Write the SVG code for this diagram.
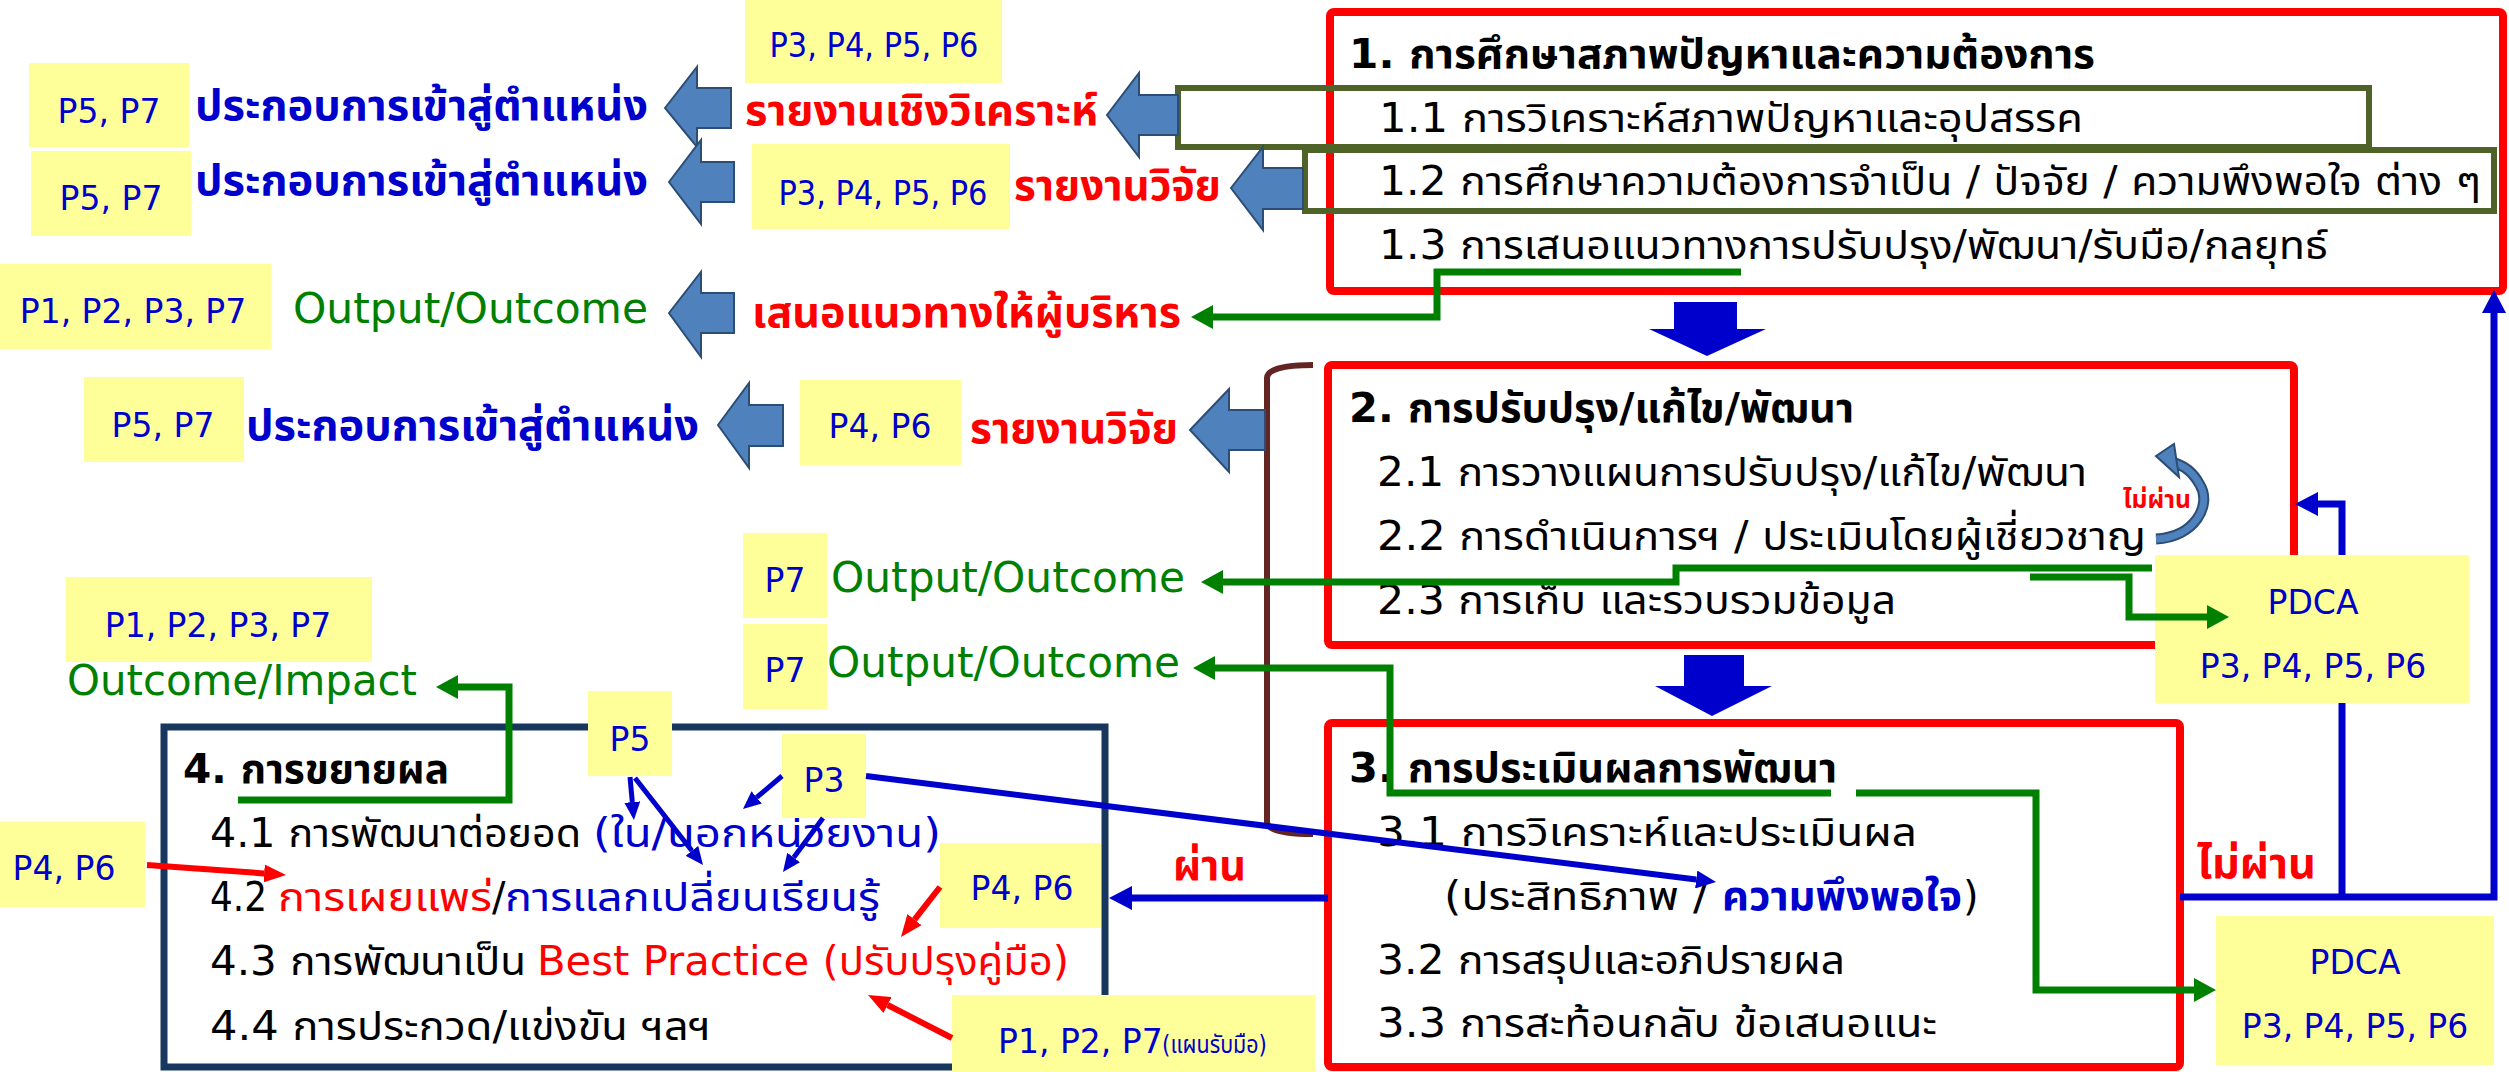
<svg xmlns="http://www.w3.org/2000/svg" width="2509" height="1072" viewBox="0 0 2509 1072">
<style>
text{font-family:"DejaVu Sans","Noto Sans Thai","Noto Sans",sans-serif;}
.it{font-size:40px;fill:#000;}
.hd{font-size:41px;font-weight:bold;fill:#000;}
.lb{font-size:33px;fill:#0000CC;text-anchor:middle;}
.sb{font-size:42px;font-weight:bold;fill:#0000CC;}
.sr{font-size:42px;font-weight:bold;fill:#FF0000;}
.oo{font-size:42px;fill:#008000;}
.yb{fill:#FFFF99;}
.rb{fill:#fff;stroke:#FF0000;stroke-width:8;}
.ol{fill:none;stroke:#4F6228;stroke-width:6;}
.ba{fill:#4F81BD;stroke:#2C4D75;stroke-width:2;}
.da{fill:#0000CC;}
.g{fill:none;stroke:#008000;stroke-width:7;}
.b{fill:none;stroke:#0000CC;stroke-width:7;}
.bt{fill:none;stroke:#0000CC;stroke-width:5;}
.r{fill:none;stroke:#FF0000;stroke-width:6;}
</style>
<defs>
<marker id="mg" markerUnits="userSpaceOnUse" viewBox="0 -12 22 24" refX="0" refY="0" markerWidth="22" markerHeight="24" orient="auto-start-reverse"><path d="M0,-12 L22,0 L0,12z" fill="#008000"/></marker>
<marker id="mb" markerUnits="userSpaceOnUse" viewBox="0 -12 23 24" refX="0" refY="0" markerWidth="23" markerHeight="24" orient="auto"><path d="M0,-12 L23,0 L0,12z" fill="#0000CC"/></marker>
<marker id="mbt" markerUnits="userSpaceOnUse" viewBox="0 -8 18 16" refX="0" refY="0" markerWidth="18" markerHeight="16" orient="auto"><path d="M0,-8 L18,0 L0,8z" fill="#0000CC"/></marker>
<marker id="mbd" markerUnits="userSpaceOnUse" viewBox="0 -9 20 18" refX="0" refY="0" markerWidth="20" markerHeight="18" orient="auto"><path d="M0,-9 L20,0 L0,9z" fill="#0000CC"/></marker>
<marker id="mr" markerUnits="userSpaceOnUse" viewBox="0 -9 22 18" refX="0" refY="0" markerWidth="22" markerHeight="18" orient="auto"><path d="M0,-9 L22,0 L0,9z" fill="#FF0000"/></marker>
</defs>
<rect width="2509" height="1072" fill="#fff"/>

<!-- main boxes -->
<g id="box1">
<rect class="rb" x="1330" y="12" width="1173" height="279" rx="4"/>
<rect class="ol" x="1178" y="88" width="1191" height="59"/>
<rect class="ol" x="1305" y="150" width="1189" height="61"/>
<text class="hd" x="1349" y="68" textLength="746" lengthAdjust="spacingAndGlyphs">1. การศึกษาสภาพปัญหาและความต้องการ</text>
<text class="it" x="1379" y="132" textLength="704" lengthAdjust="spacingAndGlyphs">1.1 การวิเคราะห์สภาพปัญหาและอุปสรรค</text>
<text class="it" x="1379" y="195" textLength="1102" lengthAdjust="spacingAndGlyphs">1.2 การศึกษาความต้องการจำเป็น / ปัจจัย / ความพึงพอใจ ต่าง ๆ</text>
<text class="it" x="1379" y="259" textLength="949" lengthAdjust="spacingAndGlyphs">1.3 การเสนอแนวทางการปรับปรุง/พัฒนา/รับมือ/กลยุทธ์</text>
</g>
<g id="box2">
<rect class="rb" x="1328" y="365" width="966" height="280" rx="4"/>
<text class="hd" x="1349" y="422" textLength="505" lengthAdjust="spacingAndGlyphs">2. การปรับปรุง/แก้ไข/พัฒนา</text>
<text class="it" x="1377" y="486" textLength="710" lengthAdjust="spacingAndGlyphs">2.1 การวางแผนการปรับปรุง/แก้ไข/พัฒนา</text>
<text class="it" x="1377" y="550" textLength="769" lengthAdjust="spacingAndGlyphs">2.2 การดำเนินการฯ / ประเมินโดยผู้เชี่ยวชาญ</text>
<text class="it" x="1377" y="614" textLength="519" lengthAdjust="spacingAndGlyphs">2.3 การเก็บ และรวบรวมข้อมูล</text>
</g>
<g id="box3">
<rect class="rb" x="1328" y="723" width="852" height="344" rx="4"/>
<text class="hd" x="1349" y="782" textLength="488" lengthAdjust="spacingAndGlyphs">3. การประเมินผลการพัฒนา</text>
<text class="it" x="1377" y="846" textLength="540" lengthAdjust="spacingAndGlyphs">3.1 การวิเคราะห์และประเมินผล</text>
<text class="it" x="1444" y="910" textLength="264" lengthAdjust="spacingAndGlyphs">(ประสิทธิภาพ /</text>
<text class="it" x="1722" y="910" textLength="240" lengthAdjust="spacingAndGlyphs" style="fill:#0000CC;font-weight:bold">ความพึงพอใจ</text>
<text class="it" x="1963" y="910">)</text>
<text class="it" x="1377" y="974" textLength="468" lengthAdjust="spacingAndGlyphs">3.2 การสรุปและอภิปรายผล</text>
<text class="it" x="1377" y="1037" textLength="560" lengthAdjust="spacingAndGlyphs">3.3 การสะท้อนกลับ ข้อเสนอแนะ</text>
</g>
<g id="box4">
<rect x="164" y="727" width="941" height="340" fill="#fff" stroke="#17375E" stroke-width="7"/>
<text class="hd" x="183" y="783" textLength="266" lengthAdjust="spacingAndGlyphs">4. การขยายผล</text>
<text class="it" x="210" y="847" textLength="371" lengthAdjust="spacingAndGlyphs">4.1 การพัฒนาต่อยอด</text>
<text class="it" x="593" y="847" textLength="348" lengthAdjust="spacingAndGlyphs" style="fill:#0000CC">(ใน/นอกหน่วยงาน)</text>
<text class="it" x="210" y="911" textLength="57" lengthAdjust="spacingAndGlyphs">4.2</text>
<text class="it" x="278" y="911" textLength="214" lengthAdjust="spacingAndGlyphs" style="fill:#FF0000">การเผยแพร่</text>
<text class="it" x="492" y="911">/</text>
<text class="it" x="505" y="911" textLength="375" lengthAdjust="spacingAndGlyphs" style="fill:#0000CC">การแลกเปลี่ยนเรียนรู้</text>
<text class="it" x="210" y="975" textLength="316" lengthAdjust="spacingAndGlyphs">4.3 การพัฒนาเป็น</text>
<text class="it" x="537" y="975" textLength="532" lengthAdjust="spacingAndGlyphs" style="fill:#FF0000">Best Practice (ปรับปรุงคู่มือ)</text>
<text class="it" x="210" y="1040" textLength="501" lengthAdjust="spacingAndGlyphs">4.4 การประกวด/แข่งขัน ฯลฯ</text>
</g>
<g id="bracket"><path d="M1313,365 Q1267,365 1267,378 V822 Q1267,834 1313,834" fill="none" stroke="#632523" stroke-width="6"/></g>

<!-- block arrows -->
<g id="blockArrows">
<polygon class="ba" points="665,108 697,67 697,88 731,88 731,128 697,128 697,147"/>
<polygon class="ba" points="1107,115 1139,73 1139,95 1178,95 1178,135 1139,135 1139,157"/>
<polygon class="ba" points="669,182 701,140 701,162 734,162 734,202 701,202 701,224"/>
<polygon class="ba" points="1231,188 1263,147 1263,168 1303,168 1303,209 1263,209 1263,230"/>
<polygon class="ba" points="669,313 701,272 701,293 734,293 734,333 701,333 701,357"/>
<polygon class="ba" points="1190,430 1229,389 1229,410 1265,410 1265,450 1229,450 1229,472"/>
<polygon class="ba" points="718,425 749,383 749,405 783,405 783,446 749,446 749,468"/>
<polygon class="da" points="1674,302 1737,302 1737,329 1766,329 1707,356 1649,329 1674,329"/>
<polygon class="da" points="1684,655 1744,655 1744,686 1772,686 1712,716 1655,686 1684,686"/>
</g>

<g id="connectorsBack">
<path class="b" d="M2342,900 V504 H2318" marker-end="url(#mb)"/>
<path class="b" d="M2180,897 H2494 V313" marker-end="url(#mb)"/>
<path class="b" d="M1328,898 H1132" marker-end="url(#mb)"/>
</g>

<!-- side labels -->
<g id="n_report_analysis">
<rect class="yb" x="745" y="0" width="257" height="83"/>
<text class="lb" x="874" y="57" textLength="209" lengthAdjust="spacingAndGlyphs">P3, P4, P5, P6</text>
<text class="sr" x="745" y="125" textLength="353" lengthAdjust="spacingAndGlyphs">รายงานเชิงวิเคราะห์</text>
</g>
<g id="n_pos1">
<rect class="yb" x="29" y="63" width="160" height="84"/>
<text class="lb" x="109" y="123">P5, P7</text>
<text class="sb" x="195" y="120" textLength="453" lengthAdjust="spacingAndGlyphs">ประกอบการเข้าสู่ตำแหน่ง</text>
</g>
<g id="n_pos2">
<rect class="yb" x="31" y="151" width="160" height="85"/>
<text class="lb" x="111" y="210">P5, P7</text>
<text class="sb" x="195" y="195" textLength="453" lengthAdjust="spacingAndGlyphs">ประกอบการเข้าสู่ตำแหน่ง</text>
</g>
<g id="n_research1">
<rect class="yb" x="752" y="144" width="258" height="85"/>
<text class="lb" x="883" y="205" textLength="209" lengthAdjust="spacingAndGlyphs">P3, P4, P5, P6</text>
<text class="sr" x="1014" y="200" textLength="207" lengthAdjust="spacingAndGlyphs">รายงานวิจัย</text>
</g>
<g id="n_output1">
<rect class="yb" x="0" y="264" width="271" height="85"/>
<text class="lb" x="133" y="323">P1, P2, P3, P7</text>
<text class="oo" x="293" y="323" textLength="355" lengthAdjust="spacingAndGlyphs">Output/Outcome</text>
<text class="sr" x="752" y="327" textLength="429" lengthAdjust="spacingAndGlyphs">เสนอแนวทางให้ผู้บริหาร</text>
</g>
<g id="n_pos3">
<rect class="yb" x="84" y="377" width="160" height="85"/>
<text class="lb" x="163" y="437">P5, P7</text>
<text class="sb" x="246" y="440" textLength="453" lengthAdjust="spacingAndGlyphs">ประกอบการเข้าสู่ตำแหน่ง</text>
</g>
<g id="n_research2">
<rect class="yb" x="800" y="380" width="161" height="85"/>
<text class="lb" x="880" y="438">P4, P6</text>
<text class="sr" x="970" y="443" textLength="208" lengthAdjust="spacingAndGlyphs">รายงานวิจัย</text>
</g>
<g id="n_output2">
<rect class="yb" x="743" y="533" width="84" height="85"/>
<text class="lb" x="785" y="592">P7</text>
<text class="oo" x="831" y="592" textLength="354" lengthAdjust="spacingAndGlyphs">Output/Outcome</text>
</g>
<g id="n_output3">
<rect class="yb" x="743" y="624" width="84" height="85"/>
<text class="lb" x="785" y="682">P7</text>
<text class="oo" x="827" y="677" textLength="353" lengthAdjust="spacingAndGlyphs">Output/Outcome</text>
</g>
<g id="n_impact">
<rect class="yb" x="66" y="577" width="306" height="85"/>
<text class="lb" x="218" y="637">P1, P2, P3, P7</text>
<text class="oo" x="67" y="695" textLength="350" lengthAdjust="spacingAndGlyphs">Outcome/Impact</text>
</g>
<g id="n_pdca1">
<rect class="yb" x="2155" y="555" width="314" height="148"/>
<text class="lb" x="2313" y="614">PDCA</text>
<text class="lb" x="2313" y="678">P3, P4, P5, P6</text>
</g>
<g id="n_pdca2">
<rect class="yb" x="2216" y="916" width="278" height="149"/>
<text class="lb" x="2355" y="974">PDCA</text>
<text class="lb" x="2355" y="1038">P3, P4, P5, P6</text>
</g>
<g id="n_p5">
<rect class="yb" x="588" y="691" width="84" height="85"/>
<text class="lb" x="630" y="751">P5</text>
</g>
<g id="n_p3">
<rect class="yb" x="782" y="734" width="84" height="84"/>
<text class="lb" x="824" y="792">P3</text>
</g>
<g id="n_p46a">
<rect class="yb" x="0" y="822" width="145" height="85"/>
<text class="lb" x="64" y="880">P4, P6</text>
</g>
<g id="n_p46b">
<rect class="yb" x="940" y="843" width="161" height="85"/>
<text class="lb" x="1022" y="900">P4, P6</text>
</g>
<g id="n_p127">
<rect class="yb" x="952" y="995" width="363" height="77"/>
<text class="lb" x="998" y="1053" style="text-anchor:start">P1, P2, P7</text>
<text x="1162" y="1053" textLength="105" lengthAdjust="spacingAndGlyphs" style="font-size:24px;fill:#0000CC">(แผนรับมือ)</text>
</g>
<g id="n_labels">
<text class="sr" x="1173" y="880" textLength="73" lengthAdjust="spacingAndGlyphs">ผ่าน</text>
<text class="sr" x="2197" y="878" textLength="119" lengthAdjust="spacingAndGlyphs">ไม่ผ่าน</text>
<text x="2123" y="508" textLength="68" lengthAdjust="spacingAndGlyphs" style="font-size:24px;font-weight:bold;fill:#FF0000">ไม่ผ่าน</text>
</g>

<!-- connectors -->
<g id="connectors">
<path class="g" d="M1741,272 H1437 V317 H1213" marker-end="url(#mg)"/>
<path class="g" d="M2152,568 H1676 V582 H1223" marker-end="url(#mg)"/>
<path class="g" d="M2030,577 H2129 V617 H2207" marker-end="url(#mg)"/>
<path class="g" d="M1215,668 H1390 V793 H1831 M1856,793 H2036 V990 H2194" marker-start="url(#mg)" marker-end="url(#mg)"/>
<path class="g" d="M238,800 H509 V687 H458" marker-end="url(#mg)"/>
<path class="r" d="M147,865 L264.1,873.4" marker-end="url(#mr)"/>
<path class="r" d="M940,887 L914.5,919.6" marker-end="url(#mr)"/>
<path class="r" d="M952,1038 L887.6,1005" marker-end="url(#mr)"/>
<path class="bt" d="M630,777 L632.3,802.1" marker-end="url(#mbt)"/>
<path class="bt" d="M635,778 L691.9,850.8" marker-end="url(#mbt)"/>
<path class="bt" d="M782,776 L756.7,797.4" marker-end="url(#mbt)"/>
<path class="bt" d="M823,818 L793.7,857.5" marker-end="url(#mbt)"/>
<path class="b" style="stroke-width:6" d="M866,776 L1696.2,879.5" marker-end="url(#mbd)"/>
<path d="M2156,539 C2195,537 2212,505 2200,485 C2193,472 2185,466 2172,462" fill="none" stroke="#2C4D75" stroke-width="11"/>
<path d="M2156,539 C2195,537 2212,505 2200,485 C2193,472 2185,466 2172,462" fill="none" stroke="#4F81BD" stroke-width="7"/>
<polygon points="2156,456 2174,444 2179,477" fill="#4F81BD" stroke="#2C4D75" stroke-width="2"/>
</g>
</svg>
